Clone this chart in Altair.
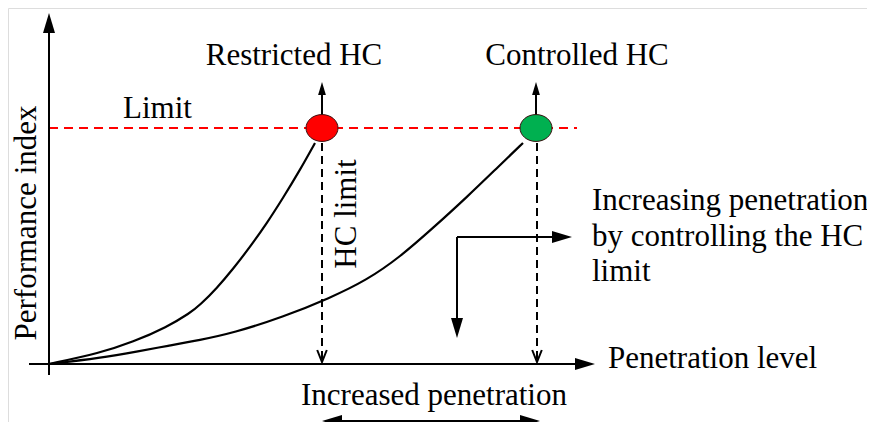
import altair as alt
import pandas as pd

# Diagram coordinates: x = penetration level, y = performance index (origin at 0,0)
restricted_x = [0, 51, 84, 118, 141, 151, 168, 184, 201, 218, 234, 251, 266]
restricted_y = [0, 11, 22, 37, 51, 59, 76, 95, 117, 141, 166, 194, 221]
controlled_x = [0, 51, 91, 118, 151, 184, 234, 281, 318, 351, 384, 418, 451, 474]
controlled_y = [0, 6, 13, 18, 24, 31, 47, 66, 84, 107, 136, 167, 199, 221]

limit_level = 236
restricted_hc = 273
controlled_hc = 487

point_labels = ["Restricted HC", "Controlled HC"]
point_x = [restricted_hc, controlled_hc]
point_colors = ["#ff0000", "#00b050"]

FONT = "Liberation Serif"
FS = 31

X_DOM = [-41, 818]
Y_DOM = [-58, 356]
W, H = 859, 414

xs = alt.Scale(domain=X_DOM, nice=False, zero=False)
ys = alt.Scale(domain=Y_DOM, nice=False, zero=False)
X = lambda f="x": alt.X(f"{f}:Q", scale=xs, axis=None)
Y = lambda f="y": alt.Y(f"{f}:Q", scale=ys, axis=None)

curves = pd.DataFrame(
    [{"curve": "restricted", "x": a, "y": b} for a, b in zip(restricted_x, restricted_y)]
    + [{"curve": "controlled", "x": a, "y": b} for a, b in zip(controlled_x, controlled_y)]
)

solid = pd.DataFrame([
    dict(x=0, y=-11, x2=0, y2=338),          # y axis
    dict(x=-20, y=0, x2=536, y2=0),          # x axis
    dict(x=restricted_hc, y=249, x2=restricted_hc, y2=274),
    dict(x=controlled_hc, y=249, x2=controlled_hc, y2=274),
    dict(x=408, y=127, x2=408, y2=36),
    dict(x=408, y=127, x2=513, y2=127),
    dict(x=283, y=-57, x2=481, y2=-57),
])
dashed = pd.DataFrame([
    dict(x=restricted_hc, y=221, x2=restricted_hc, y2=3),
    dict(x=controlled_hc + 1, y=221, x2=controlled_hc + 1, y2=3),
])
limit_df = pd.DataFrame([dict(x=0, y=limit_level, x2=528, y2=limit_level)])

big_heads = pd.DataFrame([
    dict(x=0, y=351, a=0), dict(x=546, y=0, a=90),
    dict(x=408, y=26, a=180), dict(x=523, y=127, a=90),
    dict(x=273, y=-57, a=270), dict(x=491, y=-57, a=90),
])
small_heads = pd.DataFrame([dict(x=restricted_hc, y=282, a=0), dict(x=controlled_hc, y=282, a=0)])
chevrons = pd.DataFrame([dict(x=restricted_hc, y=2, a=180), dict(x=controlled_hc + 1, y=2, a=180)])
points = pd.DataFrame({"label": point_labels, "x": point_x, "y": [limit_level] * 2, "c": point_colors})

txt_center = pd.DataFrame([
    dict(t="Restricted HC", x=245, y=299),
    dict(t="Controlled HC", x=528, y=299),
    dict(t="Increased penetration", x=385, y=-41),
])
txt_left = pd.DataFrame([
    dict(t="Limit", x=74, y=246),
    dict(t="Increasing penetration", x=543, y=154),
    dict(t="by controlling the HC", x=543, y=118),
    dict(t="limit", x=543, y=83),
    dict(t="Penetration level", x=559, y=-4),
])
txt_rot = pd.DataFrame([
    dict(t="Performance index", x=-22, y=141),
    dict(t="HC limit", x=298, y=150),
])

ARROW = "M0,0 L0.6,2 L-0.6,2 Z"
CHEV = "M-0.8,2 L0,0 L0.8,2"
ELLIPSE = "M-1,0 A1,0.84 0 1,0 1,0 A1,0.84 0 1,0 -1,0 Z"

def rules(df, **kw):
    return alt.Chart(df).mark_rule(**kw).encode(x=X(), y=Y(), x2="x2:Q", y2="y2:Q")

layers = [
    rules(limit_df, color="#ff0000", strokeWidth=2, strokeDash=[9, 6]),
    rules(dashed, color="black", strokeWidth=2, strokeDash=[8, 5]),
    rules(solid, color="black", strokeWidth=2),
    alt.Chart(curves).mark_line(color="black", strokeWidth=2.2, interpolate="basis").encode(
        x=X(), y=Y(), detail="curve:N", order="x:Q"),
    alt.Chart(big_heads).mark_point(shape=ARROW, size=400, filled=True, color="black", opacity=1).encode(
        x=X(), y=Y(), angle=alt.Angle("a:Q", scale=None)),
    alt.Chart(small_heads).mark_point(shape=ARROW, size=169, filled=True, color="black", opacity=1).encode(
        x=X(), y=Y(), angle=alt.Angle("a:Q", scale=None)),
    alt.Chart(chevrons).mark_point(shape=CHEV, size=144, filled=False, color="black", strokeWidth=2, opacity=1).encode(
        x=X(), y=Y(), angle=alt.Angle("a:Q", scale=None)),
    alt.Chart(points).mark_point(shape=ELLIPSE, size=1024, filled=True, stroke="#3a1010", strokeWidth=1, opacity=1).encode(
        x=X(), y=Y(), fill=alt.Fill("c:N", scale=None)),
    alt.Chart(txt_center).mark_text(font=FONT, fontSize=FS, align="center", baseline="alphabetic", color="black").encode(
        x=X(), y=Y(), text="t:N"),
    alt.Chart(txt_left).mark_text(font=FONT, fontSize=FS, align="left", baseline="alphabetic", color="black").encode(
        x=X(), y=Y(), text="t:N"),
    alt.Chart(txt_rot).mark_text(font=FONT, fontSize=FS, align="center", baseline="middle", angle=270, color="black").encode(
        x=X(), y=Y(), text="t:N"),
]

chart = alt.layer(*layers).properties(
    width=W, height=H, padding=0, autosize=alt.AutoSizeParams(type="none")
).configure_view(stroke=None).configure(background="white")

chart.save("out.html", embed_options={"renderer": "svg", "actions": False})
